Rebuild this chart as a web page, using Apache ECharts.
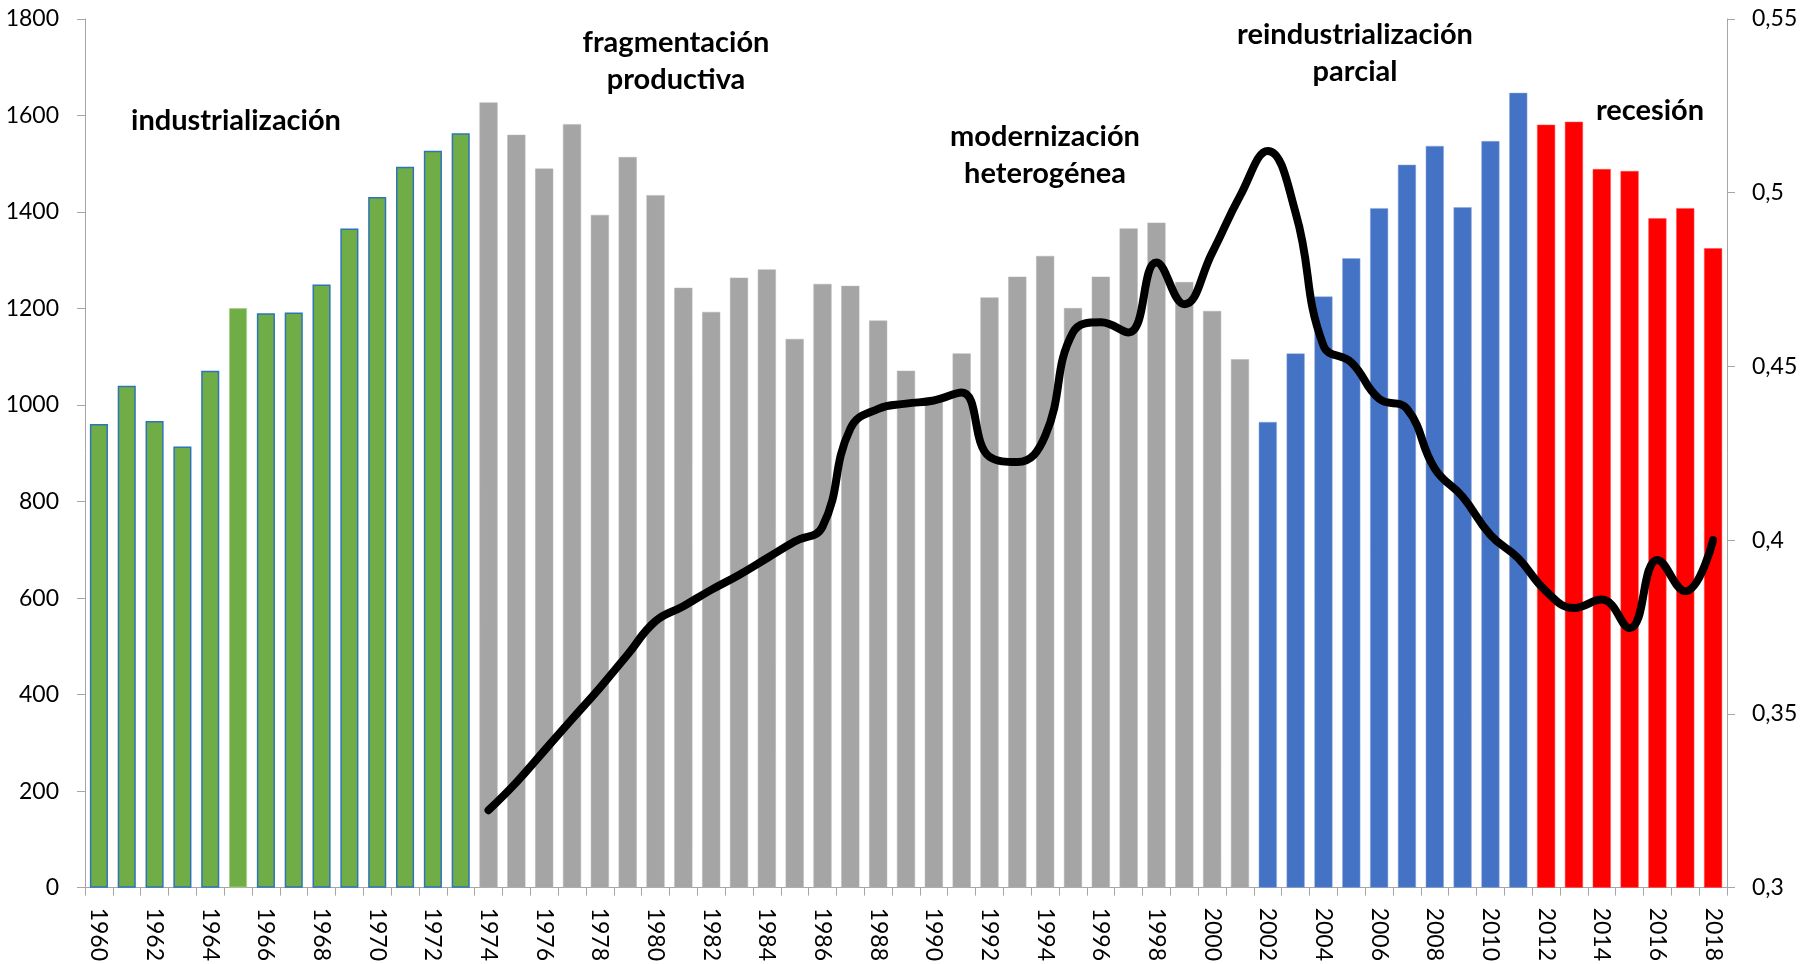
<!DOCTYPE html>
<html>
<head>
<meta charset="utf-8">
<script src="https://cdn.jsdelivr.net/npm/echarts@6/dist/echarts.min.js"></script>
<style>
  html, body { margin: 0; padding: 0; background: #ffffff; }
  #chart { width: 1810px; height: 964px; }
</style>
</head>
<body>
<div id="chart"></div>
<script>
// ---- Data ----
const years = [];
for (let y = 1960; y <= 2018; y++) years.push(String(y));

const barValues = [
  961, 1040, 967, 914, 1071, 1201, 1190, 1192, 1250, 1366, 1431, 1494, 1527, 1563,
  1627, 1560, 1490, 1582, 1394, 1514, 1435, 1243, 1193, 1264, 1281, 1137, 1251, 1247,
  1175, 1071, 1015, 1107, 1223, 1266, 1309, 1201, 1266, 1366, 1378, 1255, 1195, 1095,
  965, 1107, 1225, 1304, 1408, 1498, 1537, 1410, 1547, 1647,
  1581, 1587, 1489, 1485, 1387, 1408, 1325
];

// phase of each year: 0 industrialización, 1 fragmentación, 2 reindustrialización, 3 recesión
const phaseOf = [
  0,0,0,0,0,0,0,0,0,0,0,0,0,0,
  1,1,1,1,1,1,1,1,1,1,1,1,1,1,1,1,1,1,1,1,1,1,1,1,1,1,1,1,
  2,2,2,2,2,2,2,2,2,2,
  3,3,3,3,3,3,3
];

const lineValues = [
  null,null,null,null,null,null,null,null,null,null,null,null,null,null,
  0.3223, 0.3303, 0.3394, 0.3485, 0.3575, 0.3671, 0.3767, 0.3810, 0.3857, 0.3900,
  0.3948, 0.3996, 0.4039, 0.4321, 0.4378, 0.4393, 0.4402, 0.4425, 0.4240, 0.4225,
  0.4300, 0.4598, 0.4627, 0.4598, 0.4799, 0.4679, 0.4827, 0.4990, 0.5120, 0.4942,
  0.4560, 0.4512, 0.4407, 0.4378, 0.4206, 0.4125, 0.4015, 0.3948, 0.3853, 0.3805,
  0.3829, 0.3747, 0.3943, 0.3853, 0.4000
];

const leftTicks = { min: 0, max: 1800, interval: 200 };
const rightTicks = { min: 0.3, max: 0.55, interval: 0.05 };

const phaseLabels = [
  'industrialización',
  'fragmentación\nproductiva',
  'modernización\nheterogénea',
  'reindustrialización\nparcial',
  'recesión'
];

// ---- Styles ----
const phaseColors = ['#70AD47', '#A5A5A5', '#4472C4', '#FF0000'];
const phaseBorders = ['#2E75B6', '#B5B5B5', '#8FAADC', '#FF5050'];
const FONT = 'Lato, "Open Sans", sans-serif';

const barData = barValues.map((v, i) => {
  const p = phaseOf[i];
  let border = phaseBorders[p];
  let bw = p === 0 ? 1.5 : 0.5;
  if (years[i] === '1965') { border = '#A9D18E'; bw = 1; }
  return { value: v, itemStyle: { color: phaseColors[p], borderColor: border, borderWidth: bw } };
});

const axisGray = '#A6A6A6';

const chart = echarts.init(document.getElementById('chart'));

const textStyleBold = { fontFamily: FONT, fontWeight: 'bold', fontSize: 29, fill: '#000', textAlign: 'center', lineHeight: 37 };
const annot = (text, pos) => ({ type: 'text', x: pos[0], y: pos[1], silent: true, style: Object.assign({}, textStyleBold, { text: text }) });

chart.setOption({
  animation: false,
  backgroundColor: '#ffffff',
  grid: { left: 85, right: 83, top: 19, bottom: 73, containLabel: false },
  xAxis: {
    type: 'category',
    data: years,
    boundaryGap: true,
    axisLine: { show: true, lineStyle: { color: axisGray, width: 1 } },
    axisTick: { show: true, interval: 0, length: 8, lineStyle: { color: axisGray } },
    axisLabel: {
      interval: 1, rotate: -90, margin: 20,
      fontFamily: FONT, fontSize: 23, color: '#000'
    },
    splitLine: { show: false }
  },
  yAxis: [
    {
      type: 'value',
      min: leftTicks.min, max: leftTicks.max, interval: leftTicks.interval,
      axisLine: { show: true, lineStyle: { color: axisGray } },
      axisTick: { show: true, length: 8, lineStyle: { color: axisGray } },
      axisLabel: { margin: 26, fontFamily: FONT, fontSize: 23, color: '#000', formatter: v => String(v) },
      splitLine: { show: false }
    },
    {
      type: 'value',
      position: 'right',
      min: rightTicks.min, max: rightTicks.max, interval: rightTicks.interval,
      axisLine: { show: true, lineStyle: { color: axisGray } },
      axisTick: { show: true, length: 8, lineStyle: { color: axisGray } },
      axisLabel: {
        margin: 25, fontFamily: FONT, fontSize: 23, color: '#000',
        formatter: v => String(Math.round(v * 100) / 100).replace('.', ',')
      },
      splitLine: { show: false }
    }
  ],
  series: [
    {
      type: 'bar',
      data: barData,
      barWidth: '65%',
      yAxisIndex: 0,
      z: 2
    },
    {
      type: 'line',
      data: lineValues,
      yAxisIndex: 1,
      smooth: 0.45,
      symbol: 'none',
      connectNulls: false,
      lineStyle: { color: '#000000', width: 8, cap: 'round', join: 'round' },
      z: 5
    }
  ],
  graphic: [
    annot(phaseLabels[0], [236, 102]),
    annot(phaseLabels[1], [676, 24]),
    annot(phaseLabels[2], [1045, 118]),
    annot(phaseLabels[3], [1355, 16]),
    annot(phaseLabels[4], [1650, 92])
  ]
});
</script>
</body>
</html>
